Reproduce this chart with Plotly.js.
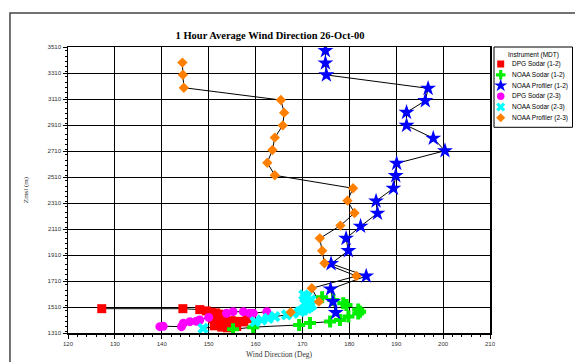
<!DOCTYPE html>
<html>
<head>
<meta charset="utf-8">
<script src="https://cdn.plot.ly/plotly-3.0.1.min.js"></script>
<style>html,body{margin:0;padding:0;background:#fff;}#chart{width:575px;height:362px;}</style>
</head>
<body>
<div id="chart"></div>
<script>
// DPG Sodar (1-2)
const dpg12Dir = [127.2,144.5,148.1,149.5,150.5,151.5,152.2,151.0,152.8,153.5,150.8,152.5,154.8,156.5,157.5,158.2,155.5,153.0,151.2,152.8,154.0,156.0];
const dpg12Z   = [1497,1497,1490,1480,1470,1465,1455,1445,1440,1430,1420,1410,1405,1400,1395,1420,1385,1375,1365,1355,1350,1360];
// NOAA Sodar (1-2)
const noaaS12Dir = [155.2,159.5,169.3,171.6,175.9,178.0,179.8,181.9,182.3,181.9,179.4,178.7,176.6,174.2];
const noaaS12Z   = [1338,1355,1372,1386,1398,1410,1436,1460,1474,1490,1525,1538,1564,1585];
// NOAA Profiler (1-2)
const noaaP12Dir = [177.1,176.5,176.0,183.6,176.1,179.8,179.3,182.4,186.0,185.7,189.4,189.9,190.1,200.4,197.9,192.2,192.2,196.2,196.8,175.1,174.9,174.9];
const noaaP12Z   = [1466,1551,1648,1748,1843,1943,2038,2131,2231,2325,2423,2520,2615,2712,2808,2907,3007,3097,3192,3295,3387,3482];
// DPG Sodar (2-3)
const dpg23Dir = [139.6,140.3,144.2,144.6,146.0,147.4,148.1,150.0,153.8,155.2,157.4,158.8,159.5,162.4];
const dpg23Z   = [1359,1362,1359,1385,1397,1400,1410,1430,1461,1474,1474,1462,1462,1474];
// NOAA Sodar (2-3)
const noaaS23Dir = [148.8,159.9,161.3,162.7,164.1,166.6,168.0,169.5,170.2,171.0,171.5,172.0,170.5,171.2,171.8,170.6,171.0,170.3];
const noaaS23Z   = [1346,1397,1410,1423,1436,1450,1462,1474,1487,1500,1512,1525,1538,1551,1564,1577,1590,1603];
// NOAA Profiler (2-3)
const noaaP23Dir = [167.5,173.5,172.0,181.5,174.7,174.2,173.7,178.1,181.1,179.6,180.8,164.1,162.5,163.6,164.1,165.8,166.1,165.4,144.7,144.5,144.4];
const noaaP23Z   = [1470,1551,1654,1748,1846,1943,2038,2136,2233,2328,2423,2523,2620,2718,2813,2907,3005,3102,3197,3297,3390];

const seriesNames = ["DPG Sodar (1-2)","NOAA Sodar (1-2)","NOAA Profiler (1-2)","DPG Sodar (2-3)","NOAA Sodar (2-3)","NOAA Profiler (2-3)"];
const legendTitle = "Instrument (MDT)";
const xTickLabels = [120,130,140,150,160,170,180,190,200,210];
const yTickLabels = [1310,1510,1710,1910,2110,2310,2510,2710,2910,3110,3310,3510];

const series = [
  {x: dpg12Dir, y: dpg12Z, color: "#ff0000", symbol: "square", size: 9, lsize: 7},
  {x: noaaS12Dir, y: noaaS12Z, color: "#00ee00", symbol: "cross", size: 10, lsize: 8},
  {x: noaaP12Dir, y: noaaP12Z, color: "#0000ff", symbol: "star", size: 12, lsize: 10},
  {x: dpg23Dir, y: dpg23Z, color: "#ff00ff", symbol: "circle", size: 9, lsize: 7.5},
  {x: noaaS23Dir, y: noaaS23Z, color: "#00ffff", symbol: "x", size: 10, lsize: 8},
  {x: noaaP23Dir, y: noaaP23Z, color: "#ff8000", symbol: "diamond", size: 8, lsize: 7}
];

const traces = [];
series.forEach((s) => {
  traces.push({x: s.x, y: s.y, mode: "lines", type: "scatter", showlegend: false,
    line: {color: "#000", width: 1}, hoverinfo: "skip"});
});
series.forEach((s, i) => {
  traces.push({x: s.x, y: s.y, mode: "markers", type: "scatter", name: seriesNames[i], showlegend: false,
    marker: {color: s.color, symbol: s.symbol, size: s.size, line: {width: 0}}});
});
// legend key symbols (on a small hidden axis pair inside the legend box)
series.forEach((s, i) => {
  traces.push({x: [6.7], y: [i], xaxis: "x2", yaxis: "y2", mode: "markers", type: "scatter", showlegend: false,
    marker: {color: s.color, symbol: s.symbol, size: s.lsize, line: {width: 0}}, hoverinfo: "skip"});
});

const serif = "Liberation Serif, Times New Roman, serif";
const sans = "Liberation Sans, Arial, sans-serif";

const annotations = seriesNames.map((n, i) => ({
  xref: "x2", yref: "y2", x: 16, y: i, xanchor: "left", yanchor: "middle", text: n, showarrow: false,
  font: {family: sans, size: 6.5, color: "#000"}
}));
annotations.push({xref: "x2", yref: "y2", x: 39.5, y: -0.87, xanchor: "center", yanchor: "middle",
  text: legendTitle, showarrow: false, font: {family: sans, size: 6.5, color: "#000"}});

const layout = {
  width: 575, height: 362,
  margin: {l: 68, r: 2, t: 47, b: 29, autoexpand: false},
  paper_bgcolor: "#fff", plot_bgcolor: "#fff",
  showlegend: false,
  title: {text: "<b>1 Hour Average Wind Direction 26-Oct-00</b>", font: {family: serif, size: 10.5, color: "#000"},
    x: 0.4, xanchor: "center", xref: "paper", y: 1, yref: "paper", yanchor: "bottom", pad: {b: 8}},
  xaxis: {domain: [0, 422/505], range: [120, 210], tickvals: xTickLabels, ticktext: xTickLabels.map(String),
    showgrid: true, gridcolor: "#000", gridwidth: 1, zeroline: false,
    showline: true, linecolor: "#000", linewidth: 1.5, mirror: true,
    ticks: "outside", ticklen: 4, tickcolor: "#000",
    minor: {dtick: 2, ticks: "outside", ticklen: 2, tickcolor: "#000", showgrid: false},
    tickfont: {family: sans, size: 6, color: "#333"},
    title: {text: "Wind Direction (Deg)", font: {family: serif, size: 7.5, color: "#333"}, standoff: 6}},
  yaxis: {range: [1310, 3510], tickvals: yTickLabels, ticktext: yTickLabels.map(String),
    showgrid: true, gridcolor: "#000", gridwidth: 1, zeroline: false,
    showline: true, linecolor: "#000", linewidth: 1.5, mirror: true,
    ticks: "outside", ticklen: 4, tickcolor: "#000",
    minor: {dtick: 40, ticks: "outside", ticklen: 2, tickcolor: "#000", showgrid: false},
    tickfont: {family: sans, size: 6.2, color: "#333"},
    title: {text: "Zmsl (m)", font: {family: serif, size: 7, color: "#333"}, standoff: 18}},
  xaxis2: {domain: [426/505, 1], range: [0, 79], visible: false, fixedrange: true, anchor: "y2"},
  yaxis2: {domain: [(333-127.3)/286, 1], range: [5.888, -1.589], visible: false, fixedrange: true, anchor: "x2"},
  annotations: annotations,
  shapes: [
    {type: "rect", xref: "paper", yref: "paper", x0: -0.1149, x1: 1.5, y0: -0.3, y1: 1.1189,
      line: {color: "#444", width: 1.5}, fillcolor: "rgba(0,0,0,0)", layer: "below"},
    {type: "rect", xref: "paper", yref: "paper", x0: 426/505, x1: 504.5/505, y0: (333-127.3)/286, y1: 1,
      line: {color: "#000", width: 1}, fillcolor: "rgba(0,0,0,0)"}
  ]
};

Plotly.newPlot("chart", traces, layout, {displayModeBar: false, staticPlot: true});
</script>
</body>
</html>
